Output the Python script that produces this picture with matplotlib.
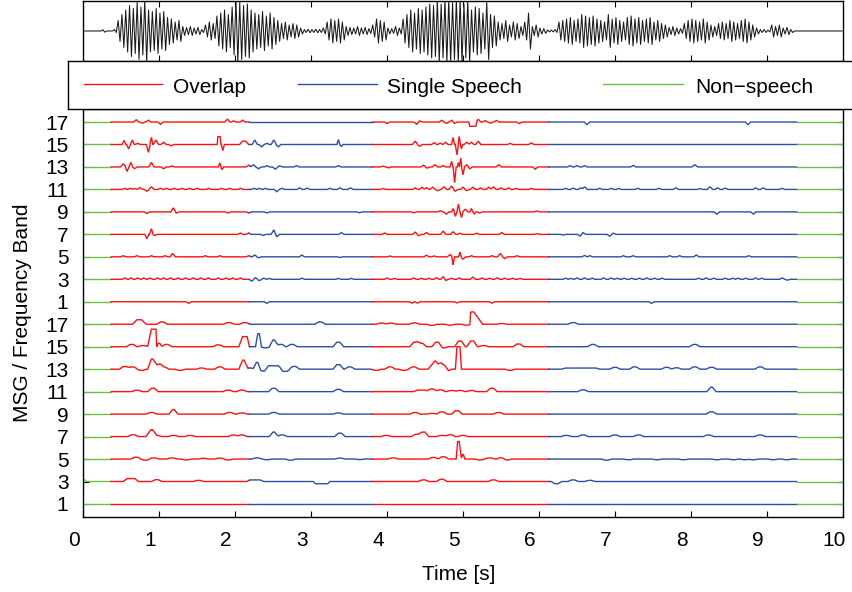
import numpy as np
import matplotlib
matplotlib.use("Agg")
import matplotlib.pyplot as plt
from matplotlib.lines import Line2D
from matplotlib.transforms import ScaledTranslation

plt.rcParams["font.family"] = ["Liberation Sans", "DejaVu Sans"]
plt.rcParams["font.size"] = 15

# ---------------- data ----------------
# speech waveform envelope, one value per 50 ms frame (0 .. 10 s)
wave_env = [
    0, 0, 0, 0, 0, 0.04, 0, 0, 0.05, 0.35,
    0.55, 0.7, 0.85, 0.75, 0.95, 0.8, 1.05, 0.7, 0.65, 0.75,
    0.6, 0.65, 0.45, 0.4, 0.3, 0.35, 0.15, 0.12, 0.15, 0.1,
    0.12, 0.05, 0.2, 0.3, 0.25, 0.5, 0.6, 0.7, 0.55, 0.8,
    1.05, 0.95, 0.85, 0.9, 0.7, 0.6, 0.55, 0.65, 0.5, 0.6,
    0.45, 0.35, 0.25, 0.3, 0.2, 0.25, 0.2, 0.1, 0.05, 0.06,
    0.05, 0.06, 0.05, 0.1, 0.3, 0.4, 0.35, 0.4, 0.3, 0.15,
    0.12, 0.1, 0.15, 0.1, 0.12, 0.08, 0.2, 0.4, 0.35, 0.3,
    0.1, 0.08, 0.15, 0.1, 0.4, 0.55, 0.7, 0.6, 0.75, 0.7,
    0.8, 0.9, 0.85, 1.05, 0.9, 1.05, 1.05, 0.95, 1.05, 1.05,
    0.9, 1.05, 0.7, 0.8, 0.75, 0.6, 0.95, 0.55, 0.5, 0.3,
    0.25, 0.35, 0.2, 0.3, 0.25, 0.15, 0.3, 0.6, 0.15, 0.2,
    0.1, 0.08, 0.03, 0.03, 0.05, 0.3, 0.35, 0.4, 0.45, 0.35,
    0.4, 0.55, 0.5, 0.45, 0.5, 0.4, 0.35, 0.3, 0.55, 0.4,
    0.45, 0.35, 0.3, 0.45, 0.5, 0.4, 0.45, 0.35, 0.4, 0.45,
    0.3, 0.35, 0.25, 0.2, 0.12, 0.15, 0.1, 0.08, 0.25, 0.35,
    0.4, 0.35, 0.3, 0.4, 0.3, 0.2, 0.15, 0.25, 0.3, 0.25,
    0.35, 0.3, 0.25, 0.35, 0.4, 0.3, 0.2, 0.1, 0.05, 0.05,
    0.03, 0.2, 0.15, 0.2, 0.1, 0.12, 0.05, 0, 0, 0,
    0, 0, 0, 0, 0, 0, 0, 0, 0, 0,
]
frame_len = 0.05

# segment labels over time
seg_bounds = [0.0, 0.37, 2.19, 3.81, 6.13, 9.39, 10.0]
seg_class = ["non", "overlap", "single", "overlap", "single", "non"]
class_names = {"overlap": "Overlap", "single": "Single Speech", "non": "Non\u2212speech"}
class_colors = {"overlap": "#FF1010", "single": "#2B4EA6", "non": "#6CC04A"}

# MSG features: (time, height[, width[, plateau[, right width]]]) per band
# second MSG (upper group)
msg2_band17 = [(0.70, 0.10), (0.78, -0.05), (0.86, 0.08), (1.02, -0.10), (1.90, 0.13),
               (1.98, 0.05), (2.10, 0.08), (4.00, -0.07), (4.39, -0.10), (4.43, 0.05),
               (4.72, 0.08), (4.78, -0.06), (4.85, 0.08), (4.89, -0.06),
               (5.13, -0.19, 0.015, 0.08), (5.20, 0.12), (5.29, 0.06), (5.36, -0.05),
               (5.44, 0.07), (5.74, -0.07), (6.63, -0.12), (8.75, -0.12)]
msg2_band15 = [(0.54, 0.18, 0.025), (0.60, -0.20, 0.025), (0.65, 0.20, 0.025), (0.72, 0.05),
               (0.86, -0.35, 0.025), (0.90, 0.32, 0.02), (0.96, 0.20), (1.06, 0.10), (1.16, -0.06),
               (1.79, 0.35, 0.01, 0.03), (1.84, -0.27, 0.02), (2.12, 0.15, 0.04, 0.04),
               (2.26, 0.20), (2.35, -0.10), (2.42, 0.05), (2.51, 0.20), (2.57, -0.10),
               (3.36, 0.22, 0.02), (3.40, -0.10, 0.02), (4.37, 0.15), (4.43, -0.08), (4.62, 0.08),
               (4.70, 0.06), (4.77, 0.10), (4.87, 0.31, 0.02), (4.92, -0.46, 0.02),
               (4.95, 0.36, 0.015), (4.98, -0.20, 0.015), (5.05, 0.10), (5.11, 0.10),
               (5.20, 0.15), (5.62, 0.05), (5.90, 0.07)]
msg2_band13 = [(0.53, 0.15), (0.58, -0.20, 0.025), (0.63, 0.20, 0.025), (0.68, -0.07),
               (0.90, 0.20), (1.06, -0.08), (1.17, 0.05), (1.80, 0.18, 0.02), (1.83, -0.12, 0.02),
               (2.18, 0.08), (2.24, 0.10), (2.31, -0.08), (2.42, 0.06), (2.53, -0.10), (2.59, 0.05),
               (2.81, 0.06), (3.36, 0.06), (3.95, 0.04), (4.02, -0.04), (4.48, 0.08), (4.53, -0.05),
               (4.63, 0.10), (4.74, 0.06), (4.85, 0.25, 0.02), (4.89, -0.70, 0.02),
               (4.94, 0.20, 0.015), (4.97, 0.40, 0.015), (5.00, -0.35, 0.02), (5.05, 0.10),
               (5.09, -0.08), (5.47, 0.10), (5.95, -0.10), (6.41, 0.06), (6.50, 0.06),
               (6.60, 0.06), (7.24, 0.07), (8.05, 0.10, 0.04)]
msg2_band11 = [(0.55, 0.05), (0.62, 0.05), (0.68, 0.04), (0.75, 0.08), (0.84, -0.08),
               (0.90, 0.12), (1.02, 0.05), (1.10, 0.05), (1.20, 0.05), (1.30, 0.05),
               (1.40, 0.05), (1.50, 0.05), (1.65, 0.05), (1.82, 0.05), (1.93, 0.05),
               (2.07, 0.05), (2.25, 0.05), (2.32, 0.05), (2.40, 0.05), (2.55, -0.10),
               (2.62, 0.05), (2.85, 0.07), (2.95, 0.06), (3.25, 0.05), (3.38, 0.07),
               (3.52, 0.07), (3.95, 0.04), (4.37, 0.07), (4.46, 0.10), (4.52, 0.08),
               (4.60, 0.10), (4.67, -0.06), (4.75, 0.12), (4.85, 0.15), (4.90, -0.08),
               (5.00, 0.10), (5.05, -0.05), (5.13, 0.10), (5.23, 0.07), (5.34, 0.10),
               (5.40, 0.12), (5.50, 0.07), (5.60, 0.07), (5.70, 0.05), (5.90, 0.05),
               (6.35, 0.05), (6.45, 0.06), (6.55, 0.07), (6.60, 0.12), (6.80, 0.05),
               (6.95, 0.05), (7.05, 0.04), (7.30, 0.05), (7.58, 0.05), (7.80, 0.07),
               (8.12, 0.04), (8.25, 0.12), (8.35, 0.07), (8.45, 0.06), (8.85, 0.07),
               (8.95, 0.07), (9.20, 0.05)]
msg2_band9 = [(0.84, -0.07), (1.19, 0.18), (1.23, -0.05), (1.91, -0.05), (2.18, -0.05),
              (2.42, -0.05), (3.64, -0.04), (4.35, -0.04), (4.70, 0.05), (4.78, -0.10),
              (4.87, 0.15, 0.02), (4.90, -0.20, 0.02), (4.94, 0.35, 0.02), (4.98, -0.25, 0.02),
              (5.03, 0.12), (5.11, 0.15, 0.02), (5.15, -0.10, 0.02), (5.22, -0.05),
              (5.97, 0.04), (8.34, -0.10), (8.82, -0.10)]
msg2_band7 = [(0.84, -0.20, 0.025), (0.90, 0.25, 0.025), (0.94, -0.05), (2.07, 0.06),
              (2.18, 0.06), (2.37, -0.05), (2.51, 0.20), (2.55, -0.10), (3.40, 0.08),
              (3.97, 0.06), (4.37, 0.10), (4.42, -0.06), (4.52, 0.08), (4.74, 0.15),
              (4.87, 0.12), (4.96, 0.05), (5.18, 0.05), (5.51, 0.08), (5.97, 0.03),
              (6.32, -0.03), (6.54, -0.08), (6.58, 0.08), (6.93, -0.08), (6.98, 0.05)]
msg2_band5 = [(0.53, 0.05), (0.71, 0.05), (0.90, 0.05), (1.08, 0.05), (1.18, 0.15),
              (1.61, 0.05), (1.80, 0.05), (2.18, 0.05), (2.26, 0.08), (2.31, -0.04),
              (2.88, 0.08), (3.38, -0.03), (4.04, 0.04), (4.52, 0.07), (4.62, 0.04),
              (4.83, 0.10), (4.87, -0.35, 0.02), (4.96, 0.20, 0.02), (5.00, -0.10),
              (5.11, 0.05), (5.38, 0.05), (5.49, 0.15), (5.55, -0.08), (5.71, 0.05),
              (6.60, 0.06), (6.67, 0.05), (7.11, 0.05), (7.24, 0.05), (7.72, 0.05),
              (7.85, 0.05), (8.07, 0.08), (8.76, 0.05)]
msg2_band3 = [(0.55, 0.06), (0.63, 0.06), (0.72, 0.06), (0.80, 0.06), (0.88, 0.06),
              (0.98, 0.06), (1.06, 0.06), (1.15, 0.06), (1.25, 0.06), (1.35, 0.06),
              (1.45, 0.06), (1.55, 0.06), (1.65, 0.06), (1.78, 0.06), (1.88, 0.06),
              (1.97, 0.06), (2.07, 0.06), (2.22, -0.08), (2.27, 0.07), (2.32, -0.06),
              (2.38, 0.05), (2.45, 0.04), (2.88, 0.05), (3.36, 0.04), (3.53, 0.04),
              (4.00, 0.06), (4.10, 0.04), (4.35, 0.06), (4.45, 0.05), (4.55, 0.05),
              (4.65, 0.07), (4.74, 0.12), (4.77, -0.06), (4.85, 0.05), (4.95, 0.06),
              (5.13, 0.10), (5.25, 0.06), (5.35, 0.05), (5.45, 0.07), (5.55, 0.05),
              (5.65, 0.05), (5.75, 0.04), (6.35, 0.05), (6.42, 0.04), (6.50, 0.06),
              (6.60, 0.06), (6.70, 0.05), (6.85, 0.06), (6.95, 0.06), (7.03, 0.05),
              (7.12, 0.05), (7.22, 0.05), (7.32, 0.05), (7.42, 0.06), (7.52, 0.05),
              (7.62, 0.05), (8.10, 0.05), (8.20, 0.06), (8.30, 0.05), (8.45, 0.05),
              (8.55, 0.05), (8.62, 0.05), (8.72, 0.05), (8.85, 0.06), (8.93, 0.05),
              (9.20, 0.06), (9.27, -0.04)]
msg2_band1 = [(1.39, -0.07), (2.42, -0.07), (4.33, -0.06), (4.40, -0.06), (4.92, -0.05),
              (5.38, -0.06), (7.48, -0.07)]

# first MSG (lower group)
msg1_band17 = [(0.74, 0.20, 0.06, 0.06), (1.04, 0.10), (1.92, 0.07), (2.13, 0.07),
               (3.12, 0.10), (3.93, 0.05), (4.05, 0.05), (4.36, 0.06), (4.59, -0.05),
               (4.83, -0.04), (5.05, -0.04), (5.12, 0.55, 0.01, 0.04, 0.12), (5.51, 0.03),
               (6.45, 0.07)]
msg1_band15 = [(0.64, 0.10), (0.79, 0.05), (0.93, 0.78, 0.05, 0.06, 0.01),
               (1.00, 0.15, 0.02, 0.02, 0.03), (1.10, 0.10), (1.78, 0.08),
               (2.13, 0.45, 0.05, 0.06, 0.03), (2.31, 0.58, 0.03, 0.02), (2.40, -0.05),
               (2.51, 0.30, 0.05, 0.02), (2.60, 0.10), (2.75, 0.10), (3.36, 0.20),
               (4.37, 0.20), (4.45, 0.15), (4.66, 0.20), (4.74, -0.05), (4.96, 0.25),
               (5.12, 0.25), (5.27, 0.05), (5.73, 0.12), (6.71, 0.10), (8.05, 0.10)]
msg1_band13 = [(0.55, 0.12), (0.65, 0.10), (0.77, -0.05), (0.91, 0.45, 0.05, 0.02),
               (0.99, 0.20), (1.06, 0.10), (1.28, -0.05), (1.56, 0.05), (1.80, 0.10),
               (2.11, 0.40, 0.05, 0.02), (2.20, 0.05), (2.29, 0.30, 0.04, 0.02),
               (2.37, -0.08), (2.46, 0.15), (2.55, 0.15), (2.66, -0.10), (2.78, 0.12),
               (3.36, 0.20), (3.51, 0.10), (3.86, -0.05), (4.04, 0.10), (4.22, -0.05),
               (4.35, 0.10), (4.61, 0.20), (4.66, 0.20), (4.74, 0.25), (4.78, -0.08),
               (4.94, 1.00, 0.02, 0.04, 0.02), (5.62, -0.05), (6.55, 0.05, 0.05, 0.40),
               (7.00, 0.08), (7.26, 0.10), (7.68, 0.08), (7.81, 0.06), (8.05, 0.10),
               (8.27, 0.08), (8.91, 0.10)]
msg1_band11 = [(0.71, 0.06), (0.92, 0.15), (1.91, 0.07), (2.09, 0.07), (2.51, 0.15),
               (3.36, 0.10), (4.45, 0.07, 0.05, 0.10), (4.59, 0.12), (4.70, 0.08),
               (4.85, 0.05), (4.96, 0.05), (5.11, 0.05), (5.38, 0.15), (6.58, 0.08),
               (8.27, 0.20, 0.05, 0.02)]
msg1_band9 = [(0.90, 0.07), (1.19, 0.20, 0.05, 0.02), (1.93, 0.07), (2.09, 0.05),
              (2.51, 0.07), (3.36, 0.05), (4.37, 0.07), (4.59, 0.03), (4.72, 0.10),
              (4.92, 0.15), (5.47, 0.07), (8.27, 0.10)]
msg1_band7 = [(0.66, 0.08), (0.90, 0.30, 0.06, 0.02), (0.97, 0.05), (1.19, 0.05),
              (1.41, 0.05), (1.98, 0.07), (2.09, 0.07), (2.51, 0.20, 0.05, 0.02),
              (2.62, 0.07), (3.38, 0.15), (3.99, 0.05), (4.39, 0.10), (4.48, 0.20),
              (4.72, 0.05), (4.83, 0.08), (5.00, 0.05), (6.36, 0.05), (6.58, 0.07),
              (7.00, 0.07), (7.31, 0.07), (8.23, 0.07), (8.91, 0.07)]
msg1_band5 = [(0.70, 0.08), (0.82, -0.05), (0.93, 0.05), (1.17, 0.05), (1.36, -0.04),
              (1.58, 0.03), (1.80, 0.04), (1.91, -0.04), (2.29, 0.05), (2.42, -0.03),
              (2.73, -0.05), (3.38, 0.04), (3.64, -0.02), (4.08, 0.05), (4.61, 0.07),
              (4.74, 0.10), (4.94, 0.78, 0.02, 0.02, 0.03), (5.00, 0.20, 0.02, 0.01),
              (5.22, -0.04), (5.35, 0.05), (5.51, 0.06), (5.57, -0.05), (6.89, -0.05),
              (7.18, -0.03), (7.55, -0.03), (7.90, -0.03), (8.34, -0.03), (8.56, -0.03),
              (8.71, -0.03), (8.82, -0.03), (9.08, -0.03), (9.26, -0.03)]
msg1_band3 = [(0.00, 0.12, 0.01, 0.0, 0.05), (0.63, 0.13, 0.05, 0.10), (0.97, 0.08),
              (1.52, 0.05), (2.22, 0.07), (2.31, 0.07), (3.14, -0.10, 0.03, 0.16),
              (4.48, 0.07), (4.72, 0.10), (5.40, 0.07), (6.23, -0.10), (6.45, 0.07),
              (6.67, 0.05)]
msg1_band1 = []

# bottom to top
msg1_bands = [msg1_band1, msg1_band3, msg1_band5, msg1_band7, msg1_band9,
              msg1_band11, msg1_band13, msg1_band15, msg1_band17]
msg2_bands = [msg2_band1, msg2_band3, msg2_band5, msg2_band7, msg2_band9,
              msg2_band11, msg2_band13, msg2_band15, msg2_band17]
band_labels = [1, 3, 5, 7, 9, 11, 13, 15, 17]


# ---------------- helpers ----------------
def bump_knots(b, w_def, p_def):
    t, h = b[0], b[1]
    if len(b) == 2:
        wl = wr = w_def
        p = p_def
    elif len(b) == 3:
        wl = wr = b[2]
        p = p_def
    elif len(b) == 4:
        wl = wr = b[2]
        p = b[3]
    else:
        wl, p, wr = b[2], b[3], b[4]
    xs = [t - p / 2 - wl, t - p / 2, t + p / 2, t + p / 2 + wr]
    return xs, [0.0, h, h, 0.0]


def band_curve(bumps, w_def, p_def):
    parts = [bump_knots(b, w_def, p_def) for b in bumps]
    knots = set(seg_bounds)
    for xs, _ in parts:
        knots.update(xs)
    t = np.array(sorted(k for k in knots if 0.0 <= k <= 10.0))
    y = np.zeros_like(t)
    for xs, ys in parts:
        y += np.interp(t, xs, ys, left=0.0, right=0.0)
    return t, y


# ---------------- figure ----------------
W, H = 852, 592
fig = plt.figure(figsize=(W / 100, H / 100), dpi=100)

ax = fig.add_axes([83 / W, 1 - 517 / H, 760 / W, 408 / H])
ax_wave = fig.add_axes([83 / W, 1 - 61 / H, 760 / W, 60 / H])
ax_leg = fig.add_axes([67.5 / W, 1 - 109 / H, 800 / W, 48.5 / H])

# waveform: one up and one down stroke per frame
wx = [0.0]
wy = [0.0]
for k, a in enumerate(wave_env):
    wx += [k * frame_len + 0.0125, k * frame_len + 0.0375]
    wy += [a, -a]
ax_wave.plot(wx, wy, color="#1a1a1a", lw=0.75)
ax_wave.set_xlim(0, 10)
ax_wave.set_ylim(-1.0, 1.0)
ax_wave.set_xticks(range(1, 10))
ax_wave.set_yticks([])
ax_wave.tick_params(axis="x", direction="in", length=4.5, width=0.8, top=True,
                    bottom=True, labelbottom=False)
for s in ax_wave.spines.values():
    s.set_linewidth(1.0)

# MSG traces, coloured by segment class
all_bands = msg1_bands + msg2_bands
for i, bumps in enumerate(all_bands):
    pos = i + 1
    lower = i < 9
    t, y = band_curve(bumps, 0.05 if lower else 0.035, 0.04 if lower else 0.0)
    for j, cls in enumerate(seg_class):
        a, b = seg_bounds[j], seg_bounds[j + 1]
        m = (t >= a) & (t <= b)
        ax.plot(t[m], pos + y[m], color=class_colors[cls], lw=1.0,
                solid_joinstyle="miter")

ax.set_xlim(0, 10)
ax.set_ylim(0.42, 18.58)
ax.set_xticks(range(0, 11))
ax.set_yticks(range(1, 19))
ax.set_yticklabels([str(v) for v in band_labels + band_labels])
ax.tick_params(axis="both", direction="in", length=4, width=0.8, right=True,
               labelsize=15)
ax.tick_params(axis="x", pad=10)
ax.tick_params(axis="y", pad=10.5)
for s in ax.spines.values():
    s.set_linewidth(1.0)
shift = ScaledTranslation(-9 / 100, 0, fig.dpi_scale_trans)
for lab in ax.get_xticklabels():
    lab.set_transform(lab.get_transform() + shift)
ax.set_xlabel("Time [s]", fontsize=15)
ax.xaxis.set_label_coords(0.494, -0.118)
ax.set_ylabel("MSG / Frequency Band", fontsize=15)
ax.yaxis.set_label_coords(-0.067, 0.5)

# legend box
ax_leg.set_xlim(67.5, 867.5)
ax_leg.set_ylim(109, 60.5)
ax_leg.set_xticks([])
ax_leg.set_yticks([])
ax_leg.set_facecolor("white")
for s in ax_leg.spines.values():
    s.set_linewidth(1.0)
leg_items = [("overlap", 84, 162, 173), ("single", 298, 377, 387), ("non", 603, 683, 695)]
for cls, x0, x1, xt in leg_items:
    ax_leg.add_line(Line2D([x0, x1], [84, 84], color=class_colors[cls], lw=1.0))
    ax_leg.text(xt, 93, class_names[cls], fontsize=15, va="baseline", ha="left")

fig.savefig("out.png", dpi=100)
